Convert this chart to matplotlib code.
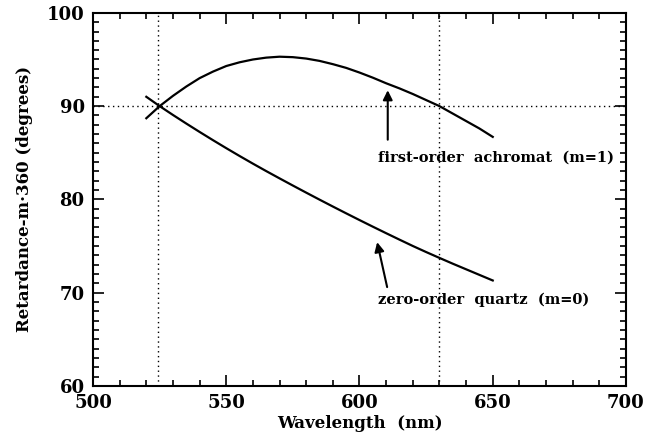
import matplotlib.pyplot as plt
from matplotlib.ticker import MultipleLocator

# wavelengths (nm) and retardance values (degrees)
wavelength = [520, 525, 530, 535, 540, 545, 550, 555, 560, 565, 570, 575, 580, 585,
              590, 595, 600, 605, 610, 615, 620, 625, 630, 635, 640, 645, 650]
first_order = [88.7, 90.0, 91.1, 92.1, 93.0, 93.7, 94.3, 94.7, 95.0, 95.2, 95.3, 95.25, 95.1, 94.85,
               94.5, 94.1, 93.6, 93.05, 92.45, 91.9, 91.3, 90.65, 90.0, 89.2, 88.4, 87.6, 86.7]
zero_order = [91.0, 90.0, 89.05, 88.13, 87.23, 86.35, 85.49, 84.65, 83.83, 83.03, 82.25, 81.48, 80.72, 79.97,
              79.23, 78.5, 77.78, 77.07, 76.37, 75.68, 75.0, 74.35, 73.72, 73.1, 72.5, 71.9, 71.3]

ref_wavelengths = [524.5, 630]
ref_retardance = 90

plt.rcParams['font.family'] = ['DejaVu Serif']

fig = plt.figure(figsize=(6.46, 4.44), dpi=100)
ax = fig.add_axes([0.144, 0.131, 0.825, 0.840])

# reference dotted lines
for wl in ref_wavelengths:
    ax.axvline(wl, color='black', linestyle=(0, (1, 2.5)), linewidth=1.0)
ax.axhline(ref_retardance, color='black', linestyle=(0, (1, 2.5)), linewidth=1.0)

# curves
ax.plot(wavelength, first_order, color='black', linewidth=1.6)
ax.plot(wavelength, zero_order, color='black', linewidth=1.6)

# labels with arrows
arrow = dict(arrowstyle='-|>', color='black', lw=1.5, mutation_scale=14)
ax.annotate('', xy=(610.6, 92.0), xytext=(610.6, 86.1), arrowprops=arrow)
ax.text(606.9, 84.5, 'first-order  achromat  (m=1)', ha='left', va='center',
        fontsize=10.5, fontweight='bold')
ax.annotate('', xy=(606.4, 75.7), xytext=(610.6, 70.3), arrowprops=arrow)
ax.text(606.9, 69.2, 'zero-order  quartz  (m=0)', ha='left', va='center',
        fontsize=10.5, fontweight='bold')

ax.set_xlim(500, 700)
ax.set_ylim(60, 100)
ax.xaxis.set_major_locator(MultipleLocator(50))
ax.xaxis.set_minor_locator(MultipleLocator(10))
ax.yaxis.set_major_locator(MultipleLocator(10))
ax.yaxis.set_minor_locator(MultipleLocator(1))
ax.tick_params(which='both', direction='in', top=True, right=True, width=1.2)
ax.tick_params(which='major', length=8, labelsize=13, pad=6)
ax.tick_params(which='minor', length=4)
for lab in ax.get_xticklabels() + ax.get_yticklabels():
    lab.set_fontweight('bold')
for sp in ax.spines.values():
    sp.set_linewidth(1.5)

ax.set_xlabel('Wavelength  (nm)', fontsize=12, fontweight='bold', labelpad=2)
ax.set_ylabel('Retardance-m·360 (degrees)', fontsize=12, fontweight='bold', labelpad=10)

fig.savefig('out.png', dpi=100)
